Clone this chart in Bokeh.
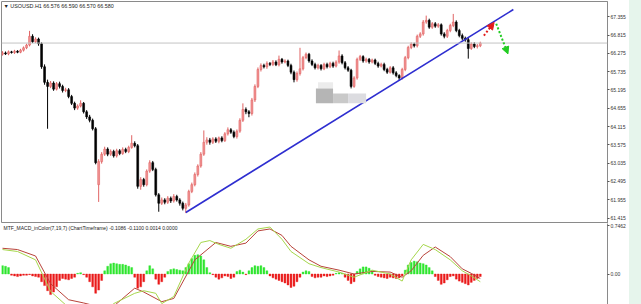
from bokeh.plotting import figure
from bokeh.models import (ColumnDataSource, Range1d, LinearAxis, FixedTicker, NumeralTickFormatter,
                          CustomJSTickFormatter, Span, Label, Arrow, NormalHead, BoxAnnotation, Spacer)
from bokeh.layouts import column, row
from bokeh.embed import file_html
from bokeh.resources import INLINE

# ---------------- data ----------------
symbol_header = "\u25bc USOUSD.H1 66.576 66.590 66.570 66.580"
macd_header = "MTF_MACD_inColor(7,19,7) (ChartTimeframe) -0.1086 -0.1100 0.0014 0.0000"
last_price = 66.58

price_ticks = [61.415, 61.955, 62.495, 63.035, 63.575, 64.115, 64.655, 65.195,
               65.735, 66.275, 66.815, 67.355]
macd_ticks = [0.0, 0.7462]

open_ = [66.25, 66.29, 66.26, 66.32, 66.30, 66.34, 66.31, 66.37, 66.44, 66.52,
         66.78, 66.62, 66.70, 66.56, 65.88, 65.42, 65.30, 65.40, 65.22, 65.38,
         65.30, 65.18, 65.20, 65.00, 64.80, 64.66, 64.72, 64.80, 64.55, 64.40,
         64.30, 64.05, 62.40, 63.08, 63.30, 63.45, 63.30, 63.38, 63.25, 63.40,
         63.32, 63.44, 63.38, 63.50, 63.62, 63.55, 62.35, 62.55, 62.40, 62.80,
         63.05, 62.85, 62.10, 61.85, 61.95, 61.88, 62.00, 61.92, 62.05, 61.95,
         61.85, 61.70, 61.80, 62.20, 62.40, 62.70, 62.95, 63.30, 63.65, 63.72,
         63.65, 63.75, 63.68, 63.78, 63.70, 63.90, 64.02, 63.95, 63.82, 63.98,
         64.30, 64.62, 64.55, 64.50, 64.90, 65.30, 65.80, 65.92, 65.88, 65.98,
         65.95, 66.02, 65.94, 66.10, 66.02, 66.05, 65.92, 65.72, 65.50, 65.68,
         65.82, 66.15, 66.25, 66.05, 65.95, 65.85, 65.92, 65.82, 65.95, 65.88,
         65.98, 65.90, 66.02, 66.20, 66.00, 65.85, 65.78, 65.30, 65.55, 66.10,
         66.18, 66.05, 66.10, 66.02, 66.08, 65.98, 65.90, 65.95, 65.80, 65.72,
         65.85, 65.70, 65.62, 65.55, 65.80, 66.15, 66.45, 66.55, 66.50, 66.78,
         66.85, 67.20, 67.25, 67.05, 67.15, 67.08, 67.12, 66.85, 66.78, 66.95,
         67.10, 67.20, 66.95, 66.80, 66.72, 66.68, 66.42, 66.55, 66.48, 66.50]

close = [66.29, 66.26, 66.32, 66.30, 66.34, 66.31, 66.37, 66.44, 66.52, 66.78,
         66.62, 66.70, 66.56, 65.88, 65.42, 65.30, 65.40, 65.22, 65.38, 65.30,
         65.18, 65.20, 65.00, 64.80, 64.66, 64.72, 64.80, 64.55, 64.40, 64.30,
         64.05, 63.05, 63.08, 63.30, 63.45, 63.30, 63.38, 63.25, 63.40, 63.32,
         63.44, 63.38, 63.50, 63.62, 63.55, 62.35, 62.55, 62.40, 62.80, 63.05,
         62.85, 62.10, 61.85, 61.95, 61.88, 62.00, 61.92, 62.05, 61.95, 61.85,
         61.70, 61.80, 62.20, 62.40, 62.70, 62.95, 63.30, 63.65, 63.72, 63.65,
         63.75, 63.68, 63.78, 63.70, 63.90, 64.02, 63.95, 63.82, 63.98, 64.30,
         64.62, 64.55, 64.50, 64.90, 65.30, 65.80, 65.92, 65.88, 65.98, 65.95,
         66.02, 65.94, 66.10, 66.02, 66.05, 65.92, 65.72, 65.50, 65.68, 65.82,
         66.15, 66.25, 66.05, 65.95, 65.85, 65.92, 65.82, 65.95, 65.88, 65.98,
         65.90, 66.02, 66.20, 66.00, 65.85, 65.78, 65.30, 65.55, 66.10, 66.18,
         66.05, 66.10, 66.02, 66.08, 65.98, 65.90, 65.95, 65.80, 65.72, 65.85,
         65.70, 65.62, 65.55, 65.80, 66.15, 66.45, 66.55, 66.50, 66.78, 66.85,
         67.20, 67.25, 67.05, 67.15, 67.08, 67.12, 66.85, 66.78, 66.95, 67.10,
         67.20, 66.95, 66.80, 66.72, 66.68, 66.42, 66.55, 66.48, 66.50, 66.58]

high = [66.34, 66.33, 66.36, 66.35, 66.38, 66.37, 66.41, 66.48, 66.56, 66.94,
        66.84, 66.75, 66.74, 66.60, 65.95, 65.50, 65.46, 65.45, 65.43, 65.44,
        65.35, 65.26, 65.25, 65.05, 64.85, 64.77, 64.89, 64.84, 64.60, 64.46,
        64.35, 64.10, 63.15, 63.36, 63.52, 63.50, 63.44, 63.43, 63.46, 63.45,
        63.50, 63.49, 63.55, 63.86, 63.68, 63.60, 62.62, 62.60, 62.85, 63.12,
        63.10, 62.90, 62.15, 62.02, 62.00, 62.06, 62.05, 62.12, 62.10, 62.00,
        61.90, 61.86, 62.25, 62.46, 62.76, 63.00, 63.36, 64.00, 63.80, 63.78,
        63.80, 63.80, 63.82, 63.83, 63.95, 64.09, 64.07, 64.00, 64.03, 64.36,
        64.80, 64.68, 64.60, 64.96, 65.36, 65.86, 65.98, 65.97, 66.04, 66.02,
        66.08, 66.07, 66.21, 66.14, 66.10, 66.09, 65.97, 65.77, 65.74, 66.44,
        66.20, 66.30, 66.29, 66.10, 66.00, 65.97, 65.96, 66.00, 66.00, 66.03,
        66.03, 66.07, 66.36, 66.25, 66.05, 65.90, 65.82, 65.60, 66.15, 66.23,
        66.22, 66.15, 66.14, 66.12, 66.12, 66.03, 66.00, 66.00, 65.85, 65.90,
        65.90, 65.75, 65.66, 65.85, 66.20, 66.50, 66.60, 66.59, 66.83, 66.90,
        67.26, 67.39, 67.30, 67.20, 67.20, 67.17, 67.16, 66.90, 67.00, 67.15,
        67.44, 67.25, 67.00, 66.86, 66.77, 66.73, 66.60, 66.60, 66.55, 66.62]

low = [66.21, 66.23, 66.22, 66.27, 66.26, 66.28, 66.28, 66.33, 66.40, 66.48,
       66.58, 66.58, 66.50, 65.82, 65.35, 64.05, 65.25, 65.17, 65.18, 65.24,
       65.12, 65.13, 64.95, 64.75, 64.60, 64.61, 64.68, 64.50, 64.34, 64.24,
       64.00, 63.00, 61.89, 63.02, 63.25, 63.24, 63.25, 63.20, 63.20, 63.27,
       63.28, 63.33, 63.33, 63.46, 63.50, 62.28, 62.25, 62.34, 62.35, 62.75,
       62.80, 62.05, 61.60, 61.80, 61.82, 61.83, 61.86, 61.87, 61.90, 61.78,
       61.64, 61.56, 61.75, 62.15, 62.35, 62.64, 62.90, 63.25, 63.58, 63.58,
       63.60, 63.63, 63.62, 63.65, 63.66, 63.85, 63.90, 63.77, 63.76, 63.93,
       64.25, 64.48, 64.39, 64.44, 64.84, 65.25, 65.74, 65.83, 65.82, 65.90,
       65.90, 65.90, 65.89, 65.97, 65.98, 65.87, 65.66, 65.42, 65.44, 65.62,
       65.77, 66.10, 66.00, 65.90, 65.80, 65.80, 65.77, 65.78, 65.83, 65.84,
       65.85, 65.86, 65.97, 65.95, 65.80, 65.73, 65.24, 65.26, 65.50, 66.05,
       66.00, 66.00, 65.97, 65.98, 65.93, 65.85, 65.86, 65.75, 65.67, 65.68,
       65.65, 65.57, 65.47, 65.50, 65.75, 66.10, 66.40, 66.45, 66.45, 66.73,
       66.80, 67.15, 67.00, 67.00, 67.03, 67.03, 66.80, 66.72, 66.73, 66.90,
       67.05, 66.90, 66.75, 66.66, 66.62, 66.12, 66.38, 66.43, 66.42, 66.46]

macd_hist = [0.13, 0.12, 0.10, -0.02, -0.03, -0.04, -0.03, -0.02, -0.02, -0.01,
             -0.03, -0.04, -0.05, -0.12, -0.18, -0.26, -0.32, -0.28, -0.20, -0.10,
             -0.07, -0.08, -0.09, -0.07, -0.05, 0.01, 0.02, -0.01, -0.05, -0.12,
             -0.20, -0.30, -0.25, -0.10, 0.05, 0.12, 0.16, 0.17, 0.16, 0.15,
             0.15, 0.14, 0.12, 0.10, -0.05, -0.22, -0.20, -0.12, 0.05, 0.13,
             0.08, -0.08, -0.16, -0.12, -0.05, 0.04, 0.07, 0.08, 0.07, 0.06,
             0.05, 0.10, 0.16, 0.24, 0.29, 0.30, 0.28, 0.22, 0.10, 0.02,
             -0.01, -0.05, -0.08, -0.06, -0.03, -0.04, -0.07, -0.05, 0.04, 0.06,
             0.03, -0.01, 0.05, 0.10, 0.13, 0.12, 0.13, 0.10, 0.05, -0.03,
             -0.06, -0.08, -0.10, -0.12, -0.14, -0.17, -0.21, -0.19, -0.12, -0.05,
             0.03, 0.05, 0.04, -0.04, -0.06, -0.05, -0.05, -0.03, -0.04, -0.03,
             -0.02, 0.01, 0.02, 0.01, -0.05, -0.10, -0.15, -0.12, 0.04, 0.08,
             0.11, 0.11, 0.09, 0.05, -0.02, -0.04, -0.05, -0.06, -0.07, -0.05,
             -0.06, -0.07, -0.06, -0.03, 0.06, 0.14, 0.18, 0.20, 0.19, 0.17,
             0.16, 0.14, 0.10, 0.05, -0.04, -0.10, -0.16, -0.14, -0.09, -0.04,
             -0.03, -0.08, -0.11, -0.13, -0.15, -0.17, -0.13, -0.10, -0.07, -0.04]

macd_main_idx = [0, 5, 11, 16, 22, 27, 33, 37, 44, 47, 51, 53, 57, 62, 66, 69, 72, 76,
                 81, 85, 89, 93, 96, 102, 106, 112, 117, 123, 129, 133, 136, 140, 144,
                 149, 153, 156, 159]
macd_main = [0.38, 0.35, 0.22, -0.27, -0.52, -0.62, -0.62, -0.46, -0.30, -0.26, -0.30,
             -0.46, -0.35, 0.17, 0.49, 0.52, 0.46, 0.40, 0.54, 0.70, 0.73, 0.54, 0.35,
             0.16, 0.10, 0.03, -0.05, 0.06, 0.00, -0.11, 0.22, 0.46, 0.38, 0.22, 0.05,
             -0.03, -0.12]

macd_signal_idx = [0, 5, 11, 16, 22, 27, 33, 37, 44, 47, 53, 57, 64, 71, 76, 81, 85, 89,
                   93, 96, 102, 106, 112, 117, 123, 129, 133, 136, 140, 144, 149, 153,
                   156, 159]
macd_signal = [0.40, 0.38, 0.28, -0.15, -0.40, -0.45, -0.52, -0.50, -0.22, -0.28, -0.43,
               -0.38, 0.22, 0.49, 0.43, 0.48, 0.67, 0.70, 0.60, 0.43, 0.22, 0.12, 0.06,
               0.00, 0.04, 0.03, -0.05, 0.05, 0.29, 0.42, 0.27, 0.08, 0.01, -0.07]

# hand-drawn annotations (bar index, price)
trend_x = [61.0, 170.0]
trend_y = [61.577, 67.57]
up_arrow = (160.2, 66.80, 163.6, 67.19)
down_arrow = (164.3, 67.15, 168.2, 66.26)

# ---------------- sources ----------------
idx = list(range(len(close)))
up = [c >= o for o, c in zip(open_, close)]


def pick(lst, flag):
    return [v for v, u in zip(lst, up) if u == flag]


def make_src(flag):
    o = pick(open_, flag)
    c = pick(close, flag)
    return ColumnDataSource(dict(
        x=pick(idx, flag), high=pick(high, flag), low=pick(low, flag),
        top=[max(a, b) for a, b in zip(o, c)], bottom=[min(a, b) for a, b in zip(o, c)]))


src_up = make_src(True)
src_dn = make_src(False)

hist_src = ColumnDataSource(dict(
    x=idx, top=macd_hist,
    color=["#2fe62f" if v >= 0 else "#ea1a1a" for v in macd_hist]))

FONT = "Liberation Sans"
GRAY = "#8a8a8a"

x_range = Range1d(-1 / 3, 201.33)

# ---------------- main price panel ----------------
p = figure(width=629, height=223, x_range=x_range, y_range=Range1d(61.253, 67.807),
           output_backend="svg", toolbar_location=None,
           x_axis_location=None, y_axis_location=None,
           min_border_left=1, min_border_right=22, min_border_top=1, min_border_bottom=0)
p.grid.visible = False
p.outline_line_color = GRAY
p.outline_line_width = 1
p.background_fill_color = "white"
p.border_fill_color = "white"

pax = LinearAxis(ticker=FixedTicker(ticks=price_ticks),
                 formatter=NumeralTickFormatter(format="0.000"),
                 major_label_text_font=FONT, major_label_text_font_size="5px",
                 major_label_text_color="#333333", major_label_standoff=1,
                 major_tick_out=2, major_tick_in=0, minor_tick_out=0, minor_tick_in=0,
                 axis_line_color=GRAY, major_tick_line_color="#555555")
p.add_layout(pax, "right")

p.add_layout(Span(location=last_price, dimension="width", line_color="#c4c4c4", line_width=1))

# blurred watermark patch from the screenshot
p.add_layout(BoxAnnotation(left=105.0, right=110.0, bottom=65.24, top=65.42,
                           fill_color="#ececec", fill_alpha=1, line_color=None))
p.add_layout(BoxAnnotation(left=104.3, right=110.0, bottom=64.80, top=65.24,
                           fill_color="#b5b5b5", fill_alpha=1, line_color=None))
p.add_layout(BoxAnnotation(left=110.0, right=115.0, bottom=64.80, top=65.09,
                           fill_color="#c9c9c9", fill_alpha=1, line_color=None))
p.add_layout(BoxAnnotation(left=115.0, right=121.0, bottom=64.80, top=65.09,
                           fill_color="#dcdce0", fill_alpha=1, line_color=None))

p.segment(x0="x", y0="low", x1="x", y1="high", source=src_up, line_color="#e06464", line_width=1)
p.vbar(x="x", width=0.62, top="top", bottom="bottom", source=src_up,
       fill_color="#f29494", line_color="#e06464", line_width=0.6)
p.segment(x0="x", y0="low", x1="x", y1="high", source=src_dn, line_color="black", line_width=1)
p.vbar(x="x", width=0.62, top="top", bottom="bottom", source=src_dn,
       fill_color="black", line_color="black", line_width=0.6)

p.line(trend_x, trend_y, line_color="#2e2ed0", line_width=1.6)

p.add_layout(Arrow(end=NormalHead(size=7, fill_color="#e21c1c", line_color="#e21c1c"),
                   x_start=up_arrow[0], y_start=up_arrow[1], x_end=up_arrow[2], y_end=up_arrow[3],
                   line_color="#e21c1c", line_width=2, line_dash="2 2"))
p.add_layout(Arrow(end=NormalHead(size=7, fill_color="#22cc22", line_color="#22cc22"),
                   x_start=down_arrow[0], y_start=down_arrow[1], x_end=down_arrow[2], y_end=down_arrow[3],
                   line_color="#22cc22", line_width=2, line_dash="2 2"))

p.add_layout(Label(x=0.33, y=67.66, text=symbol_header, text_font=FONT, text_font_size="5.4px",
                   text_color="#222222", text_baseline="middle", text_align="left"))
p.add_layout(Label(x=201.75, y=last_price, text="66.580", text_font=FONT, text_font_size="5px",
                   text_color="white", background_fill_color="black", text_baseline="middle",
                   text_align="left", padding=1))

# ---------------- MACD panel ----------------
m = figure(width=629, height=81, x_range=x_range, y_range=Range1d(-0.474, 0.785),
           output_backend="svg", toolbar_location=None,
           x_axis_location=None, y_axis_location=None,
           min_border_left=1, min_border_right=22, min_border_top=0, min_border_bottom=0)
m.grid.visible = False
m.outline_line_color = None
m.background_fill_color = "white"
m.border_fill_color = "white"

max_ = LinearAxis(ticker=FixedTicker(ticks=macd_ticks),
                  formatter=CustomJSTickFormatter(code="return tick == 0 ? '0.00' : tick.toFixed(4);"),
                  major_label_text_font=FONT, major_label_text_font_size="5px",
                  major_label_text_color="#333333", major_label_standoff=1,
                  major_tick_out=2, major_tick_in=0, minor_tick_out=0, minor_tick_in=0,
                  axis_line_color=GRAY, major_tick_line_color="#555555")
m.add_layout(max_, "right")

m.vbar(x="x", width=0.62, top="top", bottom=0, source=hist_src,
       fill_color="color", line_color="color", line_width=0.4)
m.line(macd_signal_idx, macd_signal, line_color="#b8433a", line_width=1)
m.line(macd_main_idx, macd_main, line_color="#a6d64c", line_width=1)

m.add_layout(Label(x=0.33, y=0.72, text=macd_header, text_font=FONT, text_font_size="5px",
                   text_color="#222222", text_baseline="middle", text_align="left"))

strip = Spacer(width=12, height=304, styles={"background-color": "#e6f5ec"})
layout = row(column(p, m, spacing=0), strip, spacing=0)

open("out.html", "w").write(file_html(layout, INLINE))
